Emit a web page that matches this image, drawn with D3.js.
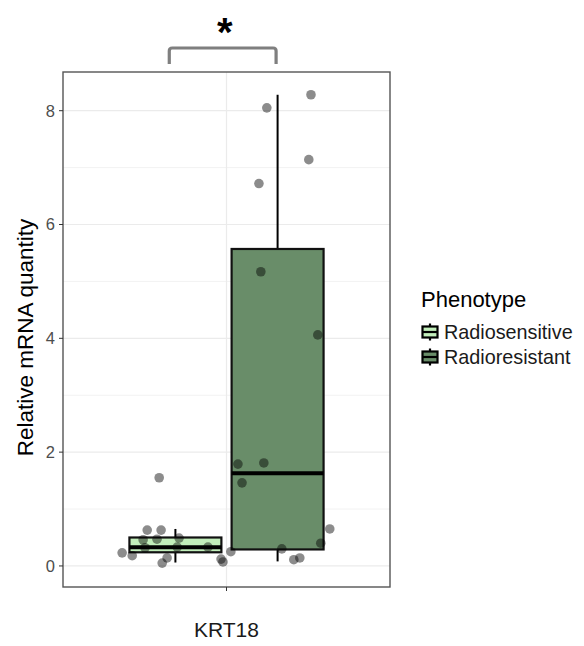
<!DOCTYPE html>
<html>
<head>
<meta charset="utf-8">
<script src="https://cdn.jsdelivr.net/npm/d3@7"></script>
<style>
  html, body { margin: 0; padding: 0; background: #fff; }
  svg { display: block; font-family: "Liberation Sans", Arial, sans-serif; }
</style>
</head>
<body>
<svg id="chart" width="584" height="646"></svg>
<script>
// ---- data ----
const categories = ["KRT18"];
const phenotypes = ["Radiosensitive", "Radioresistant"];
const fills = ["#c2eebb", "#698d69"];
// box statistics per phenotype: [lower whisker, Q1, median, Q3, upper whisker]
const boxSensitive = [0.06, 0.24, 0.33, 0.50, 0.65];
const boxResistant = [0.08, 0.29, 1.63, 5.57, 8.28];
// individual measurements (relative mRNA quantity)
const pointValues = [8.28, 8.05, 7.14, 6.72, 5.17, 4.06, 1.79, 1.81, 1.46, 1.55,
                     0.65, 0.40, 0.30, 0.11, 0.14, 0.25, 0.07, 0.12,
                     0.63, 0.63, 0.46, 0.47, 0.49, 0.23, 0.18, 0.14, 0.05, 0.33, 0.32, 0.33];
// horizontal jitter of each point, in category units
const pointJitter = [0.310, 0.148, 0.302, 0.119, 0.126, 0.335, 0.042, 0.137, 0.057, -0.247,
                     0.379, 0.346, 0.203, 0.247, 0.269, 0.016, -0.013, -0.020,
                     -0.291, -0.240, -0.306, -0.255, -0.174, -0.383, -0.346, -0.218, -0.236, -0.068, -0.299, -0.181];
const yTicks = [0, 2, 4, 6, 8];
const yMinorTicks = [1, 3, 5, 7];
const yTitle = "Relative mRNA quantity";
const legendTitle = "Phenotype";
const signifLabel = "*";

// ---- layout ----
const panel = { left: 63, right: 390, top: 72, bottom: 587 };
const svg = d3.select("#chart");

const x = d3.scaleBand().domain(categories).range([panel.left, panel.right])
  .paddingInner(0).paddingOuter(0.1);
const xc = c => x(c) + x.bandwidth() / 2;
const unit = x.step();

const y = d3.scaleLinear().domain([-0.37, 8.68]).range([panel.bottom, panel.top]);

// panel background + grid
const g = svg.append("g");
g.append("rect").attr("x", panel.left).attr("y", panel.top)
  .attr("width", panel.right - panel.left).attr("height", panel.bottom - panel.top)
  .attr("fill", "#fff");

g.selectAll(".minor").data(yMinorTicks).join("line")
  .attr("x1", panel.left).attr("x2", panel.right)
  .attr("y1", d => y(d)).attr("y2", d => y(d))
  .attr("stroke", "#f2f2f2").attr("stroke-width", 1);
g.selectAll(".major").data(yTicks).join("line")
  .attr("x1", panel.left).attr("x2", panel.right)
  .attr("y1", d => y(d)).attr("y2", d => y(d))
  .attr("stroke", "#ebebeb").attr("stroke-width", 1.2);
g.selectAll(".vmajor").data(categories).join("line")
  .attr("x1", d => xc(d)).attr("x2", d => xc(d))
  .attr("y1", panel.top).attr("y2", panel.bottom)
  .attr("stroke", "#ebebeb").attr("stroke-width", 1.2);

// boxplots (dodged)
const boxes = [boxSensitive, boxResistant];
const dodge = [-0.1875, 0.1875];
const boxW = 0.3375 * unit;
boxes.forEach((s, i) => {
  const cx = xc(categories[0]) + dodge[i] * unit;
  const bg = svg.append("g");
  bg.append("line").attr("x1", cx).attr("x2", cx)
    .attr("y1", y(s[3])).attr("y2", y(s[4])).attr("stroke", "#000").attr("stroke-width", 2);
  bg.append("line").attr("x1", cx).attr("x2", cx)
    .attr("y1", y(s[0])).attr("y2", y(s[1])).attr("stroke", "#000").attr("stroke-width", 2);
  bg.append("rect").attr("x", cx - boxW / 2).attr("width", boxW)
    .attr("y", y(s[3])).attr("height", y(s[1]) - y(s[3]))
    .attr("fill", fills[i]).attr("stroke", "#111").attr("stroke-width", 2.2);
  bg.append("line").attr("x1", cx - boxW / 2).attr("x2", cx + boxW / 2)
    .attr("y1", y(s[2])).attr("y2", y(s[2])).attr("stroke", "#000").attr("stroke-width", 4);
});

// jittered points
svg.append("g").selectAll("circle").data(pointValues).join("circle")
  .attr("cx", (d, i) => xc(categories[0]) + pointJitter[i] * unit)
  .attr("cy", d => y(d))
  .attr("r", 4.8)
  .attr("fill", "#000").attr("fill-opacity", 0.45);

// panel border
svg.append("rect").attr("x", panel.left).attr("y", panel.top)
  .attr("width", panel.right - panel.left).attr("height", panel.bottom - panel.top)
  .attr("fill", "none").attr("stroke", "#555").attr("stroke-width", 1.4);

// y axis
const yAxis = svg.append("g");
yAxis.selectAll("line").data(yTicks).join("line")
  .attr("x1", panel.left - 4).attr("x2", panel.left)
  .attr("y1", d => y(d)).attr("y2", d => y(d)).attr("stroke", "#333").attr("stroke-width", 1);
yAxis.selectAll("text").data(yTicks).join("text")
  .attr("x", panel.left - 8).attr("y", d => y(d)).attr("dy", "0.36em")
  .attr("text-anchor", "end").attr("font-size", 16.5).attr("fill", "#4d4d4d")
  .text(d => d);

// x axis
const xAxis = svg.append("g");
xAxis.selectAll("line").data(categories).join("line")
  .attr("x1", d => xc(d)).attr("x2", d => xc(d))
  .attr("y1", panel.bottom).attr("y2", panel.bottom + 4).attr("stroke", "#333");
xAxis.selectAll("text").data(categories).join("text")
  .attr("x", d => xc(d)).attr("y", 637)
  .attr("text-anchor", "middle").attr("font-size", 21).attr("fill", "#1a1a1a")
  .text(d => d);

// y title
svg.append("text")
  .attr("transform", `translate(33,${(panel.top + panel.bottom) / 2 + 8}) rotate(-90)`)
  .attr("text-anchor", "middle").attr("font-size", 22.5).attr("fill", "#000")
  .text(yTitle);

// significance bracket
const bx1 = xc(categories[0]) - 0.21 * unit;
const bx2 = xc(categories[0]) + 0.182 * unit;
const byTop = 48, byEnd = 64, rr = 3;
svg.append("path")
  .attr("d", `M${bx1},${byEnd} V${byTop + rr} Q${bx1},${byTop} ${bx1 + rr},${byTop} H${bx2 - rr} Q${bx2},${byTop} ${bx2},${byTop + rr} V${byEnd}`)
  .attr("fill", "none").attr("stroke", "#7f7f7f").attr("stroke-width", 3.2);
svg.append("text")
  .attr("x", (bx1 + bx2) / 2 + 2).attr("y", 46)
  .attr("text-anchor", "middle").attr("font-size", 40).attr("font-weight", "bold")
  .attr("fill", "#000").text(signifLabel);

// legend
const lg = svg.append("g");
lg.append("text").attr("x", 421).attr("y", 307).attr("font-size", 22).attr("fill", "#000")
  .text(legendTitle);
phenotypes.forEach((p, i) => {
  const cy = 332 + i * 25;
  const kx = 430;
  lg.append("line").attr("x1", kx).attr("x2", kx).attr("y1", cy - 8.5).attr("y2", cy + 8.5)
    .attr("stroke", "#000").attr("stroke-width", 2.2);
  lg.append("rect").attr("x", kx - 7.5).attr("y", cy - 5.5).attr("width", 15).attr("height", 11)
    .attr("fill", fills[i]).attr("stroke", "#000").attr("stroke-width", 2.2);
  lg.append("line").attr("x1", kx - 7.5).attr("x2", kx + 7.5).attr("y1", cy).attr("y2", cy)
    .attr("stroke", "#000").attr("stroke-width", 2.2);
  lg.append("text").attr("x", 444).attr("y", cy).attr("dy", "0.36em")
    .attr("font-size", 19.8).attr("fill", "#1a1a1a").text(p);
});
</script>
</body>
</html>
